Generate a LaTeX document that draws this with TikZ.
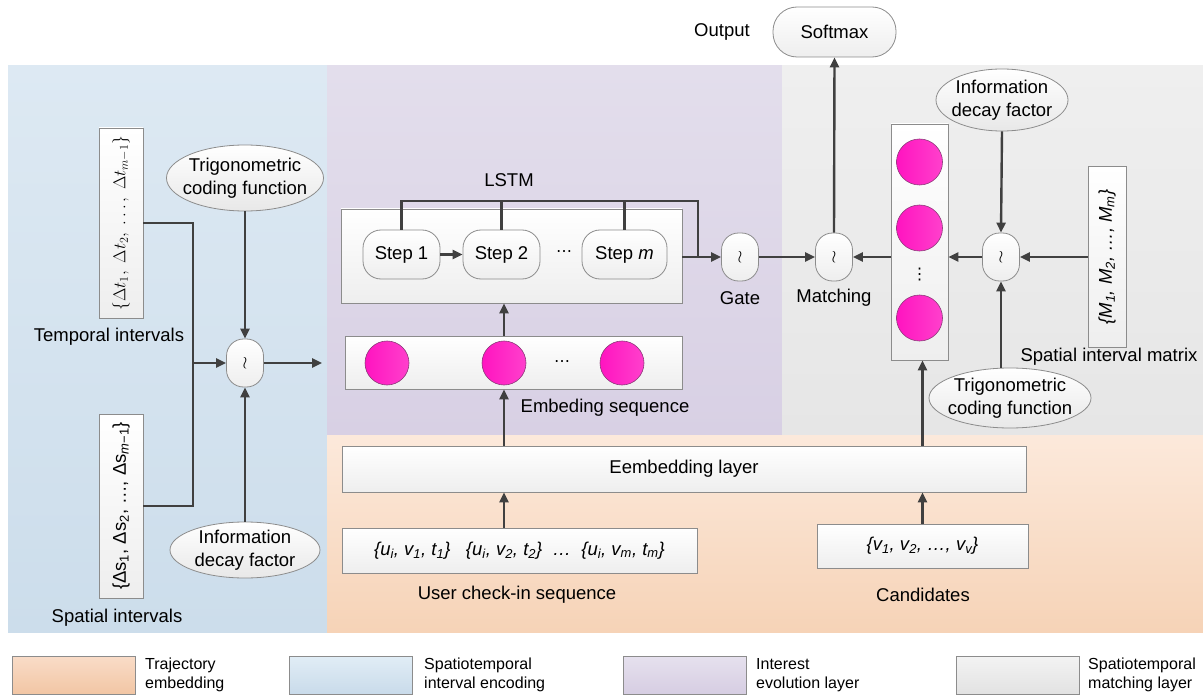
\documentclass[tikz,border=0pt]{standalone}
\usepackage{fontspec}
\setmainfont{Liberation Sans}
\newfontfamily\djv{DejaVu Sans}
\usetikzlibrary{shapes.geometric,arrows.meta,calc}
\definecolor{arrc}{HTML}{404040}
\definecolor{bordc}{HTML}{8C8C8C}
\definecolor{boxb}{HTML}{EEEEEE}
\definecolor{ellb}{HTML}{E8E8E8}
\definecolor{bluet}{HTML}{DDE9F3}
\definecolor{blueb}{HTML}{CCDDEB}
\definecolor{purt}{HTML}{E3DEEC}
\definecolor{purb}{HTML}{D8D0E4}
\definecolor{grayt}{HTML}{EFEFEF}
\definecolor{grayb}{HTML}{E6E6E6}
\definecolor{oranget}{HTML}{FCE9DB}
\definecolor{orangeb}{HTML}{F6D3B7}
\definecolor{lorat}{HTML}{F9DCC8}
\definecolor{lorab}{HTML}{F2C6A4}
\definecolor{lblut}{HTML}{E1EDF6}
\definecolor{lblub}{HTML}{C9DBEA}
\definecolor{lpurt}{HTML}{E6E1EE}
\definecolor{lpurb}{HTML}{D6CDE2}
\definecolor{lgrat}{HTML}{F3F3F3}
\definecolor{lgrab}{HTML}{E2E2E2}
\definecolor{magl}{HTML}{FF14C0}
\definecolor{magr}{HTML}{FF40CC}
\definecolor{magd}{HTML}{8A3A78}
\begin{document}
\begin{tikzpicture}[x=1pt,y=-1pt,
  font=\fontsize{18.5}{23}\selectfont,
  line/.style={draw=arrc,line width=2.4pt},
  arr/.style={line,-{Triangle[length=10pt,width=9pt]}},
  box/.style={draw=bordc,line width=0.8pt,top color=white,bottom color=boxb,inner sep=0pt},
  pill/.style={box,rounded corners=18pt},
  tild/.style={box,rounded corners=17pt,minimum width=37pt,minimum height=48pt,font=\fontsize{17}{17}\selectfont},
  ell/.style={ellipse,draw=bordc,line width=0.8pt,top color=white,bottom color=ellb,inner sep=0pt},
  circ/.style={circle,draw=magd,line width=0.6pt,left color=magl,right color=magr,minimum size=44pt,inner sep=0pt},
  lgd/.style={draw=bordc,line width=0.8pt,minimum width=123pt,minimum height=38pt,inner sep=0pt},
  lgt/.style={anchor=west,align=left,font=\fontsize{16}{19}\selectfont,inner sep=0pt},
  dots/.style={inner sep=0pt,font=\djv\fontsize{16}{16}\selectfont}]
\useasboundingbox (0,0) rectangle (1203,698);
\fill[white] (0,0) rectangle (1203,698);
% regions
\shade[top color=bluet,bottom color=blueb] (8,66) rectangle (327,632);
\shade[top color=purt,bottom color=purb] (327,66) rectangle (782,435);
\shade[top color=grayt,bottom color=grayb] (782,66) rectangle (1203,435);
\shade[top color=oranget,bottom color=orangeb] (327,435) rectangle (1203,632);

% ---- left: spatiotemporal interval encoding
\node[box,rotate=90,minimum width=190pt,minimum height=44pt] (dt) at (121,223)
  {\fontsize{17.5}{20}\selectfont$\{\Delta t_1,\ \Delta t_2,\ \ldots,\ \Delta t_{m-1}\}$};
\node[box,rotate=90,minimum width=184pt,minimum height=44pt] (ds) at (121,506)
  {\{Δs\textsubscript{1}, Δs\textsubscript{2}, …, Δs\textsubscript{\textit{m}−1}\}};
\node[ell,minimum width=157pt,minimum height=66pt] (trigL) at (245,178) {};
\node[align=center] (trigLt) at (trigL) {Trigonometric\\coding function};
\node[ell,minimum width=150pt,minimum height=56pt] (decL) at (245,550) {};
\node[align=center] (decLt) at (decL) {Information\\decay factor};
\node[tild] (tl) at (245,363) {$\wr$};
\coordinate (jL) at (193,363);
\coordinate (pE) at (322,363);
\node (tlab) at (109,337) {Temporal intervals};
\node (slab) at (117,618) {Spatial intervals};

% ---- purple: interest evolution
\node (lstml) at (509,180) {LSTM};
\node[box,minimum width=341pt,minimum height=94pt] (lstm) at (511.5,256) {};
\node[pill,minimum width=77pt,minimum height=49pt] (s1) at (401.5,254.5) {Step 1};
\node[pill,minimum width=77pt,minimum height=49pt] (s2) at (501.5,254.5) {Step 2};
\node[pill,minimum width=85pt,minimum height=49pt] (sm) at (624.5,254.5) {Step \textit{m}};
\node[dots] (sdots) at (564,254) {⋯};
\coordinate (busR) at (698,201);
\coordinate (busJ) at (698,257);
\node[box,minimum width=337pt,minimum height=53pt] (es) at (513.5,362.5) {};
\node[circ] (c1) at (387,363) {};
\node[circ] (c2) at (504,363) {};
\node[circ] (c3) at (622,363) {};
\node[dots] (edots) at (562,364) {⋯};
\node (eslab) at (605,408) {Embeding sequence};
\node[tild] (gate) at (740,257) {$\wr$};
\node (gatel) at (740,298) {Gate};

% ---- gray: spatiotemporal matching
\node[pill,rounded corners=24pt,minimum width=123pt,minimum height=50pt] (sm0) at (834.5,32) {Softmax};
\node (outl) at (722,32) {Output};
\node[tild] (match) at (834,257) {$\wr$};
\node (matchl) at (834,298) {Matching};
\node[box,minimum width=57pt,minimum height=236pt] (cv) at (919.5,242) {};
\node[circ,minimum size=46pt] (v1) at (919.5,162) {};
\node[circ,minimum size=46pt] (v2) at (919.5,228) {};
\node[circ,minimum size=46pt] (v3) at (919.5,318) {};
\node[dots] (vdots) at (919.5,275) {⋮};
\node[tild] (tr) at (1001,257) {$\wr$};
\node[ell,minimum width=132pt,minimum height=62pt] (decR) at (1002,100) {};
\node[align=center] (decRt) at (decR) {Information\\decay factor};
\node[ell,minimum width=162pt,minimum height=60pt] (trigR) at (1010,398) {};
\node[align=center] (trigRt) at (trigR) {Trigonometric\\coding function};
\node[box,rotate=90,minimum width=181pt,minimum height=38pt] (mb) at (1107,257)
  {\textit{\{M\textsubscript{1}, M\textsubscript{2}, …, M\textsubscript{m}\}}};
\node (mlab) at (1109,357) {Spatial interval matrix};

% ---- orange: trajectory embedding
\node[box,minimum width=684pt,minimum height=46pt] (el) at (684,469) {Eembedding layer};
\node[box,minimum width=355pt,minimum height=45pt] (ub) at (519.5,550.5)
  {\textit{\{u\textsubscript{i}, v\textsubscript{1}, t\textsubscript{1}\}\ \ \ \{u\textsubscript{i}, v\textsubscript{2}, t\textsubscript{2}\}\ \ …\ \ \{u\textsubscript{i}, v\textsubscript{m}, t\textsubscript{m}\}}};
\node[box,minimum width=211pt,minimum height=44pt] (cb) at (922.5,546)
  {\textit{\{v\textsubscript{1}, v\textsubscript{2}, …, v\textsubscript{v}\}}};
\node (ulab) at (517,595) {User check-in sequence};
\node (clab) at (923,595) {Candidates};

% ---- connectors
\draw[line] (dt.south) -| (jL);
\draw[line] (ds.south) -| (jL);
\draw[arr] (jL) -- (tl.west);
\draw[arr] (trigL.south) -- (tl.north);
\draw[arr] (decL.north) -- (tl.south);
\draw[arr] (tl.east) -- (pE);

\draw[arr] (ub.north -| c2) -- (el.south -| c2);
\draw[arr] (el.north -| c2) -- (es.south -| c2);
\draw[arr] (es.north -| c2) -- (lstm.south -| c2);
\draw[arr] (s1.east) -- (s2.west);
\draw[line] (s1.north) |- (busR) -- (busJ);
\draw[line] (s2.north) -- (s2.north |- busR);
\draw[line] (sm.north) -- (sm.north |- busR);
\draw[arr] (lstm.east |- gate) -- (gate.west);
\draw[arr] (gate.east) -- (match.west);
\draw[arr] (cv.west |- match) -- (match.east);
\draw[arr] (tr.west) -- (cv.east |- tr);
\draw[arr] (mb.north) -- (tr.east);
\draw[arr] (decR.south) -- (tr.north);
\draw[arr] (trigR.north -| tr) -- (tr.south);
\draw[arr] (match.north) -- (sm0.south);
\draw[arr] (cb.north) -- (el.south -| cb.north);
\draw[arr] (el.north -| cb.north) -- (cv.south -| cb.north);

% ---- legend
\node[lgd,top color=lorat,bottom color=lorab] (lg1) at (73.5,675) {};
\node[lgt] (lg1t) at (145,675) {Trajectory\\embedding};
\node[lgd,top color=lblut,bottom color=lblub] (lg2) at (351,675) {};
\node[lgt] (lg2t) at (424,675) {Spatiotemporal\\interval encoding};
\node[lgd,top color=lpurt,bottom color=lpurb] (lg3) at (684.5,675) {};
\node[lgt] (lg3t) at (756,675) {Interest\\evolution layer};
\node[lgd,top color=lgrat,bottom color=lgrab] (lg4) at (1017.5,675) {};
\node[lgt] (lg4t) at (1088,675) {Spatiotemporal\\matching layer};
\end{tikzpicture}
\end{document}
